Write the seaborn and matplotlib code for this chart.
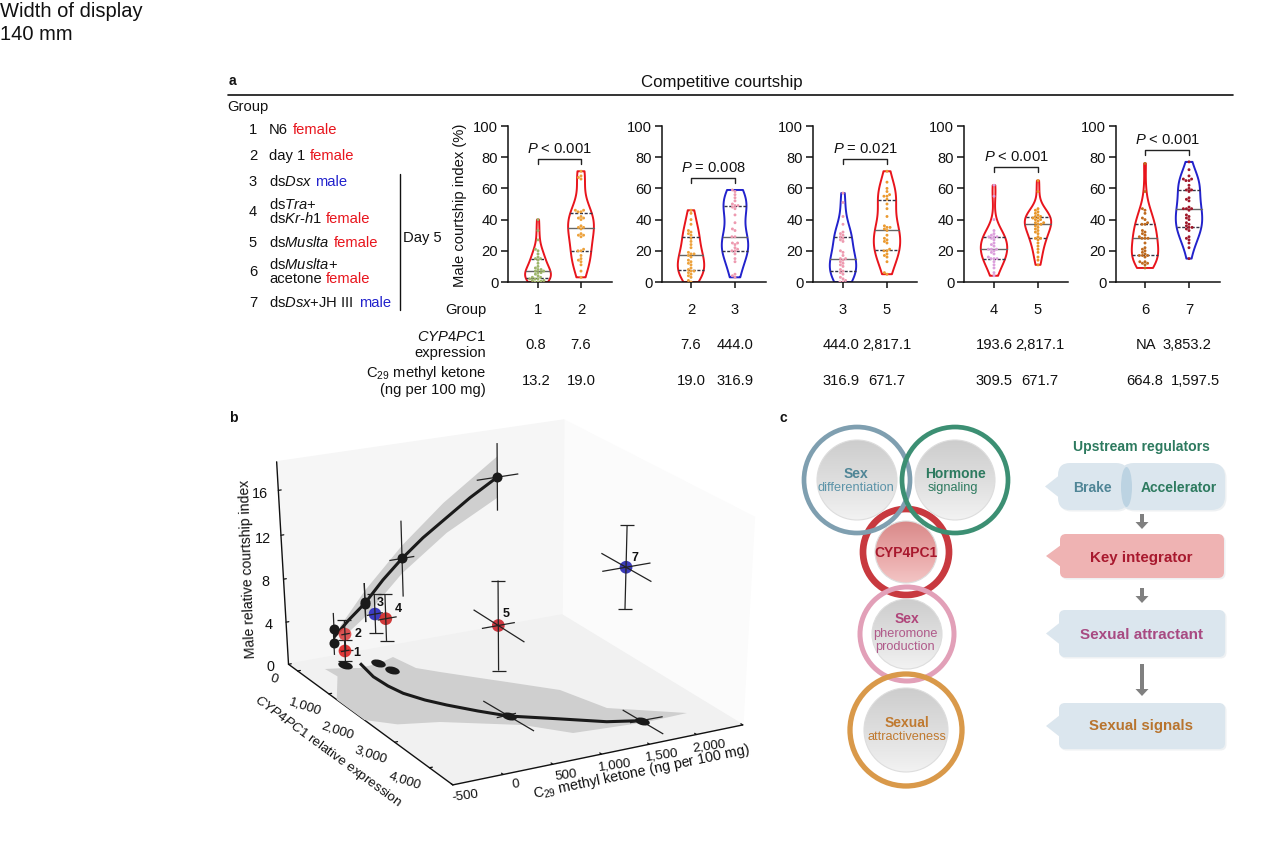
import numpy as np
import pandas as pd
import matplotlib
matplotlib.use('Agg')
import matplotlib.pyplot as plt
import matplotlib.patches as mpatches
from matplotlib.path import Path
from matplotlib.transforms import Affine2D
from mpl_toolkits.mplot3d.art3d import Poly3DCollection, Line3DCollection
import seaborn as sns

# ---------- panel a data ----------
panel_groups = [['1', '2'], ['2', '3'], ['3', '5'], ['4', '5'], ['6', '7']]
p1_g1 = [0,0,0.5,1,1,2,2,2,3,3,4,5,6,6,7,7,8,8,9,10,12,14,15,15,16,18,20,21,27,33,40]
p1_g2 = [3,7,11,13,14,15,17,20,20,21,29,30,30,31,34,35,35,36,40,41,41,42,45,45,46,46,66,67,68,71]
p2_g2 = [0,1,3,4,5,6,7,7,8,9,11,12,13,14,16,17,18,18,19,22,24,26,28,30,31,32,33,37,40,44,46]
p2_g3 = [3,4,5,13,15,18,20,20,21,22,24,25,25,29,29,33,34,38,43,47,48,49,49,50,52,54,56,58,59]
p3_g3 = [0,0,1,2,3,5,6,7,8,10,11,12,13,14,15,15,17,19,20,26,27,28,29,30,31,32,37,42,51,57]
p3_g5 = [5,6,13,16,17,18,20,20,21,25,26,27,28,30,33,34,35,35,36,42,47,50,53,55,55,56,58,60,64,71]
p4_g4 = [4,6,9,11,13,15,15,15,16,18,19,20,21,21,21,23,24,25,27,28,29,29,29,30,31,33,40,55,62]
p4_g5 = [11,14,16,19,21,23,25,27,28,28,29,31,32,33,34,35,36,37,37,38,38,39,40,40,41,41,42,42,43,44,45,46,47,58,65]
p5_g6 = [9,11,12,12,13,13,16,17,17,17,18,19,20,21,22,25,28,28,28,29,30,31,32,33,37,37,38,40,41,44,46,47,58,76]
p5_g7 = [15,22,25,27,28,29,33,34,35,35,36,37,38,40,41,42,43,46,47,47,47,48,52,53,54,58,59,59,60,62,65,65,66,66,68,72,77]
panel_values = [(p1_g1, p1_g2), (p2_g2, p2_g3), (p3_g3, p3_g5), (p4_g4, p4_g5), (p5_g6, p5_g7)]
p_labels = ['$\\mathit{P}$ < 0.001', '$\\mathit{P}$ = 0.008', '$\\mathit{P}$ = 0.021', '$\\mathit{P}$ < 0.001', '$\\mathit{P}$ < 0.001']
bracket_levels = [78.8, 66.7, 78.8, 73.5, 84.6]
cyp_rows = [['0.8', '7.6'], ['7.6', '444.0'], ['444.0', '2,817.1'], ['193.6', '2,817.1'], ['NA', '3,853.2']]
c29_rows = [['13.2', '19.0'], ['19.0', '316.9'], ['316.9', '671.7'], ['309.5', '671.7'], ['664.8', '1,597.5']]

# ---------- panel b data (C29, CYP4PC1, relative index) ----------
grp_ids = ['1', '2', '3', '4', '5', '7']
grp_c29 = [13, 19, 317, 310, 672, 1598]
grp_cyp = [-33, -27, 50, 409, 2708, 3694]
grp_idx = [1.0, 2.6, 4.2, 4.5, 8.0, 13.7]
grp_idx_hi = [2.0, 3.9, 6.1, 6.8, 12.0, 17.3]
grp_idx_lo = [0.0, 1.1, 2.4, 2.4, 3.9, 10.0]
grp_c29_lo = [-30, -20, 230, 225, 504, 1354]
grp_c29_hi = [60, 70, 400, 425, 842, 1851]
grp_cyp_lo = [-33, -27, 50, 409, 2011, 3055]
grp_cyp_hi = [-33, -27, 50, 409, 3425, 4336]
wall_c29 = [-15, -7, 331, 330, 738, 1774]
wall_idx = [1.2, 2.6, 4.6, 4.4, 8.1, 14.2]
wall_hi = [2.2, 4.1, 6.4, 6.4, 11.6, 17.3]
wall_lo = [0.1, 1.2, 2.7, 2.7, 4.5, 11.1]
wall_c29_lo = [-15, -7, 331, 330, 603, 1552]
wall_c29_hi = [-15, -7, 331, 330, 869, 2003]
wline_c29 = [-11, 154, 330, 529, 738, 966, 1187, 1477, 1774]
wline_idx = [1.8, 3.2, 4.5, 6.4, 8.1, 9.7, 11.0, 12.7, 14.2]
wband_c29 = [57, 336, 742, 1191, 1776, 1773, 1221, 733, 325, 50]
wband_idx = [2.7, 5.7, 9.3, 12.6, 16.1, 12.3, 9.8, 6.7, 3.2, 1.4]
floor_c29 = [-34, 274, 299, 716, 1733]
floor_cyp = [95, 230, 577, 2885, 3876]
fline_c29 = [113, 65, 78, 118, 218, 337, 521, 708, 1068, 1436, 1720]
fline_cyp = [132, 693, 1110, 1458, 1823, 2127, 2524, 2879, 3272, 3685, 3865]
fband_c29 = [-249,-69,57,285,468,527,680,940,1116,1455,1612,2203,1760,1026,719,86,-282,-500,-500,-230]
fband_cyp = [107,202,300,252,122,665,962,1431,1743,2357,3250,3922,3950,3826,3260,2640,2450,2100,1250,450]
floor_err_c29 = [[684, 737], [594, 803], [1715, 1739], [1613, 1956]]
floor_err_cyp = [[2229, 3518], [2860, 2840], [3415, 4425], [3864, 3883]]

# ---------- style ----------
sns.set_theme(style='white')
plt.rcParams.update({
    'font.family': ['Liberation Sans', 'DejaVu Sans'],
    'mathtext.fontset': 'custom', 'mathtext.rm': 'Liberation Sans',
    'mathtext.it': 'Liberation Sans:italic', 'mathtext.bf': 'Liberation Sans:bold',
    'text.color': '#111111', 'axes.labelcolor': '#111111',
    'xtick.color': '#111111', 'ytick.color': '#111111', 'axes.edgecolor': '#111111',
})
W, H = 1280, 848
fig = plt.figure(figsize=(W / 100, H / 100), dpi=100)
FS = 10.6
RED, BLUE = '#e8141c', '#2222cc'

# ---------- panel a violins ----------
ax_left = [508, 662, 813, 964, 1116]
tick0 = [538, 691, 843, 994, 1145]
tick1 = [581, 735, 887, 1038, 1189]
ax_w = 104
viol_cols = [[RED, RED], [RED, BLUE], [BLUE, RED], [RED, RED], [RED, BLUE]]
dot_cols = [['#9db56a', '#eda23c'], ['#eda23c', '#ee9ab0'], ['#ee9ab0', '#eb9a30'],
            ['#dca0dc', '#e8962a'], ['#bf6a1e', '#a0182a']]
for i in range(5):
    ax = fig.add_axes([ax_left[i] / W, 1 - 282 / H, ax_w / W, 156 / H])
    cats = panel_groups[i]
    df = pd.DataFrame({'Group': [cats[0]] * len(panel_values[i][0]) + [cats[1]] * len(panel_values[i][1]),
                       'Index': list(panel_values[i][0]) + list(panel_values[i][1])})
    sns.violinplot(data=df, x='Group', y='Index', hue='Group', order=cats, hue_order=cats,
                   palette=viol_cols[i], fill=False, inner='quart', cut=0, density_norm='width',
                   width=0.6, linewidth=1.4, legend=False, ax=ax)
    for k, ln in enumerate(ax.lines):
        if k % 3 == 1:
            ln.set(color='#666666', linestyle='-', linewidth=1.0)
        else:
            ln.set(color='#333344', linestyle=(0, (2.2, 1.2)), linewidth=1.0)
    sns.swarmplot(data=df, x='Group', y='Index', hue='Group', order=cats, hue_order=cats,
                  palette=dot_cols[i], size=2.1, legend=False, ax=ax, zorder=3)
    sp = tick1[i] - tick0[i]
    ax.set_xlim((ax_left[i] - tick0[i]) / sp, (ax_left[i] + ax_w - tick0[i]) / sp)
    ax.set_ylim(0, 100)
    ax.set_yticks([0, 20, 40, 60, 80, 100])
    ax.set_xlabel('')
    ax.set_ylabel('')
    ax.patch.set_visible(False)
    sns.despine(ax=ax)
    for s in ('left', 'bottom'):
        ax.spines[s].set_linewidth(1.1)
    ax.tick_params(axis='y', labelsize=FS, length=5, width=1.1, pad=2, left=True)
    ax.tick_params(axis='x', labelsize=FS, length=4, width=1.1, pad=11, bottom=True)
    if i == 0:
        ax.set_ylabel('Male courtship index (%)', fontsize=FS)
        ax.yaxis.set_label_coords(-0.395, 0.49)
    lv = bracket_levels[i]
    ax.plot([0, 0, 1, 1], [lv - 3, lv, lv, lv - 3], color='#222222', lw=1.0)
    ax.text(0.5, lv + 6.6, p_labels[i], ha='center', va='center', fontsize=FS)

# ---------- panel b ----------
XL, YL, ZL = (-500, 2500), (-300, 4650), (0, 18.5)
ax3 = fig.add_axes([0, 0, 1, 1], projection='3d', computed_zorder=False)
ax3.set_facecolor('none')
ax3.set_xlim(*XL); ax3.set_ylim(*YL); ax3.set_zlim(*ZL)
ax3.set_autoscale_on(False)
ax3.apply_aspect()
corners = [((0, 0, 0), (288, 664)), ((0, 1, 0), (453, 785)), ((1, 1, 0), (742, 725)), ((1, 0, 0), (563, 615)),
           ((0, 0, 1), (277, 462)), ((1, 0, 1), (563, 420)), ((1, 1, 1), (755, 517))]
A, b = [], []
for (X, Y, Z), (u, v) in corners:
    v = H - v
    A.append([X, Y, Z, 1, 0, 0, 0, 0, -u * X, -u * Y, -u * Z]); b.append(u)
    A.append([0, 0, 0, 0, X, Y, Z, 1, -v * X, -v * Y, -v * Z]); b.append(v)
s = np.linalg.lstsq(np.array(A, float), np.array(b, float), rcond=None)[0]
Pn = np.array([s[:4], s[4:8], list(s[8:11]) + [1]])
Tn = np.array([[1 / (XL[1] - XL[0]), 0, 0, -XL[0] / (XL[1] - XL[0])],
               [0, 1 / (YL[1] - YL[0]), 0, -YL[0] / (YL[1] - YL[0])],
               [0, 0, 1 / (ZL[1] - ZL[0]), 0], [0, 0, 0, 1]])
Pd = Pn @ Tn
o, ex, ey = ax3.transData.transform([[0, 0], [1, 0], [0, 1]])
Aff = np.array([[ex[0] - o[0], ey[0] - o[0], o[0]], [ex[1] - o[1], ey[1] - o[1], o[1]], [0, 0, 1]])
R = np.linalg.inv(Aff) @ Pd
depth = np.array([1, -1, -1, 0.5]) @ Tn
M3 = np.array([R[0], R[1], depth, R[2]])
ax3.get_proj = lambda: M3
ax3._focal_length = np.inf   # no view clipping for the fixed projection

ax3.set_xticks([-500, 0, 500, 1000, 1500, 2000, 2500])
ax3.set_xticklabels(['-500', '0', '500', '1,000', '1,500', '2,000', ''])
ax3.set_yticks([0, 1000, 2000, 3000, 4000])
ax3.set_yticklabels(['0', '1,000', '2,000', '3,000', '4,000'])
ax3.set_zticks([0, 4, 8, 12, 16])
ax3.tick_params(axis='x', labelsize=9.6, labelrotation=8, pad=2)
ax3.tick_params(axis='y', labelsize=9.6, labelrotation=-18, pad=2)
ax3.tick_params(axis='z', labelsize=10.4, pad=2)
ax3.set_xlabel('C$_{29}$ methyl ketone (ng per 100 mg)', fontsize=10.3, labelpad=6)
ax3.set_ylabel('$\\mathit{CYP4PC1}$ relative expression', fontsize=9.7, labelpad=10)
ax3.set_zlabel('Male relative courtship index', fontsize=10.1, labelpad=6)
ax3.zaxis.set_rotate_label(False)
ax3.zaxis.label.set_rotation(92)
ax3.grid(False)

def shift_label(label, dx, dy):
    base = label.set_position
    du, dv = dx / Aff[0, 0], dy / Aff[1, 1]
    label.set_position = lambda xy: base((xy[0] + du, xy[1] + dv))

shift_label(ax3.xaxis.label, 24, 10)
shift_label(ax3.yaxis.label, -11, -5)
shift_label(ax3.zaxis.label, 3, -8)

def shift_ticklabels(axis, dx, dy):
    base = axis.get_major_ticks
    def patched(numticks=None):
        ticks = base(numticks)
        for t in ticks:
            t.label1.set_transform(ax3.transData + Affine2D().translate(dx, dy))
        return ticks
    axis.get_major_ticks = patched

shift_ticklabels(ax3.xaxis, 7, 7)
shift_ticklabels(ax3.yaxis, -15, 6)
shift_ticklabels(ax3.zaxis, -4, 2)
for axis, colr in ((ax3.xaxis, '#fbfbfb'), (ax3.yaxis, '#f6f6f6'), (ax3.zaxis, '#f1f1f1')):
    axis.set_pane_color(colr)
    axis.pane.set_edgecolor(colr)
    axis.line.set_color('#111111')
    axis.line.set_linewidth(1.0)
    axis._axinfo['tick']['inward_factor'] = 0.0
    axis._axinfo['tick']['outward_factor'] = 0.12
    axis._axinfo['tick']['linewidth'] = {True: 0.9, False: 0.5}

BAND = '#cfcfcf'
wy = YL[0]
def path3(xs, ys, zs):
    return list(zip(xs, ys, zs))
def lines3(segs, color, lw, z):
    ax3.add_collection3d(Line3DCollection(segs, colors=color, linewidths=lw, zorder=z), autolim=False)

ax3.add_collection3d(Poly3DCollection([path3(wband_c29, [wy] * len(wband_c29), wband_idx)],
                                      facecolor=BAND, edgecolor='none', zorder=2), autolim=False)
ax3.add_collection3d(Poly3DCollection([path3(fband_c29, fband_cyp, [0] * len(fband_c29))],
                                      facecolor=BAND, edgecolor='none', zorder=2), autolim=False)
lines3([path3(wline_c29, [wy] * len(wline_c29), wline_idx), path3(fline_c29, fline_cyp, [0] * len(fline_c29))], 'k', 2.2, 3)
EC = '#222222'
wall_segs = []
for j in range(len(wall_c29)):
    wall_segs.append([(wall_c29[j], wy, wall_lo[j]), (wall_c29[j], wy, wall_hi[j])])
    wall_segs.append([(wall_c29_lo[j], wy, wall_idx[j]), (wall_c29_hi[j], wy, wall_idx[j])])
lines3(wall_segs, EC, 0.9, 4)
lines3([[(ec[0], ey_[0], 0), (ec[1], ey_[1], 0)] for ec, ey_ in zip(floor_err_c29, floor_err_cyp)], EC, 0.9, 4)
ax3.scatter(wall_c29, [wy] * len(wall_c29), wall_idx, s=52, c='k', linewidths=0, depthshade=False, zorder=5)
disc = Path.unit_circle().transformed(Affine2D().scale(1, 0.5).rotate_deg(-14))
ax3.scatter(floor_c29, floor_cyp, [0] * len(floor_c29), s=115, c='k', marker=disc, linewidths=0, depthshade=False, zorder=5)
grp_cols = ['#dd2020', '#dd4040', '#2222bb', '#cc2020', '#c81e28', '#2020b0']
ax3.scatter(grp_c29 + grp_c29, grp_cyp + grp_cyp, grp_idx_lo + grp_idx_hi, s=110, marker='_', c=EC, linewidths=0.9,
            depthshade=False, zorder=4)
ax3.scatter(grp_c29, grp_cyp, grp_idx, s=84, c=grp_cols, alpha=0.88, linewidths=0, depthshade=False, zorder=6)
grp_segs = []
for j in range(len(grp_ids)):
    grp_segs.append([(grp_c29[j], grp_cyp[j], grp_idx_lo[j]), (grp_c29[j], grp_cyp[j], grp_idx_hi[j])])
    grp_segs.append([(grp_c29_lo[j], grp_cyp[j], grp_idx[j]), (grp_c29_hi[j], grp_cyp[j], grp_idx[j])])
    grp_segs.append([(grp_c29[j], grp_cyp_lo[j], grp_idx[j]), (grp_c29[j], grp_cyp_hi[j], grp_idx[j])])
lines3(grp_segs, EC, 0.9, 7)

# ---------- overlay: texts and panel c ----------
ov = fig.add_axes([0, 0, 1, 1], zorder=5)
ov.set_facecolor('none')
ov.axis('off')

def T(x, y, s, **kw):
    kw.setdefault('fontsize', FS)
    kw.setdefault('va', 'center')
    return ov.text(x, y + 0.8, s, **kw)

T(0, 11, 'Width of display', fontsize=14.5)
T(0, 34, '140 mm', fontsize=14.5)
T(229, 80, 'a', fontweight='bold', fontsize=10)
T(722, 82, 'Competitive courtship', ha='center', fontsize=12.1)
ov.plot([228, 1233], [95, 95], color='#111111', lw=1.2)
T(227, 106, 'Group')
numy = [129, 155, 181, 211, 242, 271, 302]
for n, yy in enumerate(numy):
    T(253, yy, str(n + 1), ha='center')
T(269, 129, 'N6'); T(292.5, 129, 'female', color=RED)
T(269, 155, 'day 1'); T(310, 155, 'female', color=RED)
T(269, 181, 'ds$\\mathit{Dsx}$'); T(315, 181, 'male', color=BLUE)
T(269, 204, 'ds$\\mathit{Tra}$+')
T(269, 218, 'ds$\\mathit{Kr}$-$\\mathit{h1}$'); T(326, 218, 'female', color=RED)
T(269, 242, 'ds$\\mathit{Muslta}$'); T(334, 242, 'female', color=RED)
T(269, 264, 'ds$\\mathit{Muslta}$+')
T(269, 278, 'acetone'); T(326, 278, 'female', color=RED)
T(269, 302, 'ds$\\mathit{Dsx}$+JH III'); T(359, 302, 'male', color=BLUE)
ov.plot([400, 400], [174, 310], color='#111111', lw=1.0)
T(403, 237, 'Day 5')
T(486, 309, 'Group', ha='right')
T(486, 336, '$\\mathit{CYP4PC1}$', ha='right')
T(486, 352, 'expression', ha='right')
T(486, 372, 'C$_{29}$ methyl ketone', ha='right')
T(486, 389, '(ng per 100 mg)', ha='right')
cyp_x = [(536, 581), (691, 735), (841, 887), (994, 1040), (1146, 1187)]
c29_x = [(536, 581), (691, 735), (841, 887), (994, 1040), (1145, 1195)]
for (xa, xb), (ma, mb), cr, mr in zip(cyp_x, c29_x, cyp_rows, c29_rows):
    T(xa, 344, cr[0], ha='center'); T(xb, 344, cr[1], ha='center')
    T(ma, 380, mr[0], ha='center'); T(mb, 380, mr[1], ha='center')

# panel b labels
T(229, 417, 'b', fontweight='bold', fontsize=10)
for lab, (lx, ly) in zip(grp_ids, [(357, 652), (358, 633), (380, 602), (398, 608), (506, 613), (635, 557)]):
    T(lx, ly, lab, fontweight='bold', fontsize=9, ha='center')

# panel c
T(779, 417, 'c', fontweight='bold', fontsize=10)
grad = np.linspace(0, 1, 64).reshape(-1, 1)
gray_map = matplotlib.colors.LinearSegmentedColormap.from_list('g', ['#cdcdcd', '#dedede', '#f2f2f2'])
pink_map = matplotlib.colors.LinearSegmentedColormap.from_list('p', ['#d98a8a', '#e8a5a5', '#f3c4c4'])
rings = [(906, 552, 43, 6.7, '#c8393f', 31, pink_map), (907, 634, 47, 5, '#e2a0b8', 35, gray_map),
         (906, 730, 56, 5.3, '#d9994a', 42, gray_map), (857, 480, 53, 4.7, '#7f9fb0', 40, gray_map),
         (955, 480, 53, 4.7, '#3c8f73', 40, gray_map)]
for cx, cy, r, lw, col, rd, cm in rings:
    ov.add_patch(mpatches.Circle((cx, cy), r, fc='none', ec=col, lw=lw * 0.72, zorder=3))
for cx, cy, r, lw, col, rd, cm in rings:
    clip = mpatches.Circle((cx, cy), rd, fc='none', ec='#dddddd', lw=0.8, zorder=5)
    ov.add_patch(clip)
    im = ov.imshow(grad, cmap=cm, extent=(cx - rd, cx + rd, cy + rd, cy - rd), aspect='auto', zorder=4)
    im.set_clip_path(clip)
T(856, 473, 'Sex', color='#4f8596', ha='center', fontweight='bold', fontsize=10, zorder=8)
T(856, 487, 'differentiation', color='#5b93a8', ha='center', fontsize=9.2, zorder=8)
T(955, 473, 'Hormone', color='#2d7a5f', ha='center', fontweight='bold', fontsize=10, zorder=8)
T(953, 487, 'signaling', color='#2d7a5f', ha='center', fontsize=9.2, zorder=8)
T(906, 552, 'CYP4PC1', color='#a8192e', ha='center', fontweight='bold', fontsize=10, zorder=8)
T(907, 618, 'Sex', color='#b0457a', ha='center', fontweight='bold', fontsize=10, zorder=8)
T(905, 633, 'pheromone', color='#b05a8a', ha='center', fontsize=9.2, zorder=8)
T(905, 646, 'production', color='#b05a8a', ha='center', fontsize=9.2, zorder=8)
T(907, 722, 'Sexual', color='#c07a30', ha='center', fontweight='bold', fontsize=10, zorder=8)
T(907, 736, 'attractiveness', color='#c07a30', ha='center', fontsize=9.2, zorder=8)

BOX = '#dbe6ee'
def callout(x0, x1, y0, y1, col, tipx=None, rnd=6):
    ov.add_patch(mpatches.FancyBboxPatch((x0 + 1.5, y0 + 1.5), x1 - x0, y1 - y0, boxstyle=f'round,pad=0,rounding_size={rnd}',
                                         fc='#eef1f3', ec='none', zorder=2))
    ov.add_patch(mpatches.FancyBboxPatch((x0, y0), x1 - x0, y1 - y0, boxstyle=f'round,pad=0,rounding_size={rnd}',
                                         fc=col, ec='none', zorder=3))
    if tipx is not None:
        ym = (y0 + y1) / 2
        ov.add_patch(mpatches.Polygon([(tipx, ym), (x0 + 1, ym - 11), (x0 + 1, ym + 11)], fc=col, ec='none', zorder=3))

T(1141, 446, 'Upstream regulators', color='#2d7a5f', ha='center', fontweight='bold', fontsize=10.1)
callout(1058, 1128, 463, 510, BOX, 1045, rnd=12)
callout(1120, 1225, 463, 510, BOX, rnd=14)
ov.add_patch(mpatches.Ellipse((1126.5, 487), 11, 40, fc='#bcd3e2', ec='none', zorder=4))
T(1092, 487, 'Brake', color='#4f8596', ha='center', fontweight='bold', fontsize=10, zorder=8)
T(1179, 487, 'Accelerator', color='#2d7a5f', ha='center', fontweight='bold', fontsize=10, zorder=8)
callout(1060, 1224, 534, 578, '#efb3b3', 1046)
T(1141, 557, 'Key integrator', color='#a8192e', ha='center', fontweight='bold', fontsize=10.9, zorder=8)
callout(1059, 1225, 610, 657, BOX, 1046)
T(1141, 634, 'Sexual attractant', color='#a84a82', ha='center', fontweight='bold', fontsize=11, zorder=8)
callout(1059, 1225, 703, 749, BOX, 1046)
T(1141, 725, 'Sexual signals', color='#b8742e', ha='center', fontweight='bold', fontsize=10.8, zorder=8)
for y0, y1 in [(514, 529), (588, 603), (664, 696)]:
    ov.add_patch(mpatches.FancyArrow(1142, y0, 0, y1 - y0, width=4, head_width=13, head_length=7,
                                     length_includes_head=True, fc='#808080', ec='none', zorder=3))
ov.set_xlim(0, W)
ov.set_ylim(H, 0)
fig.savefig('out.png', dpi=100)
